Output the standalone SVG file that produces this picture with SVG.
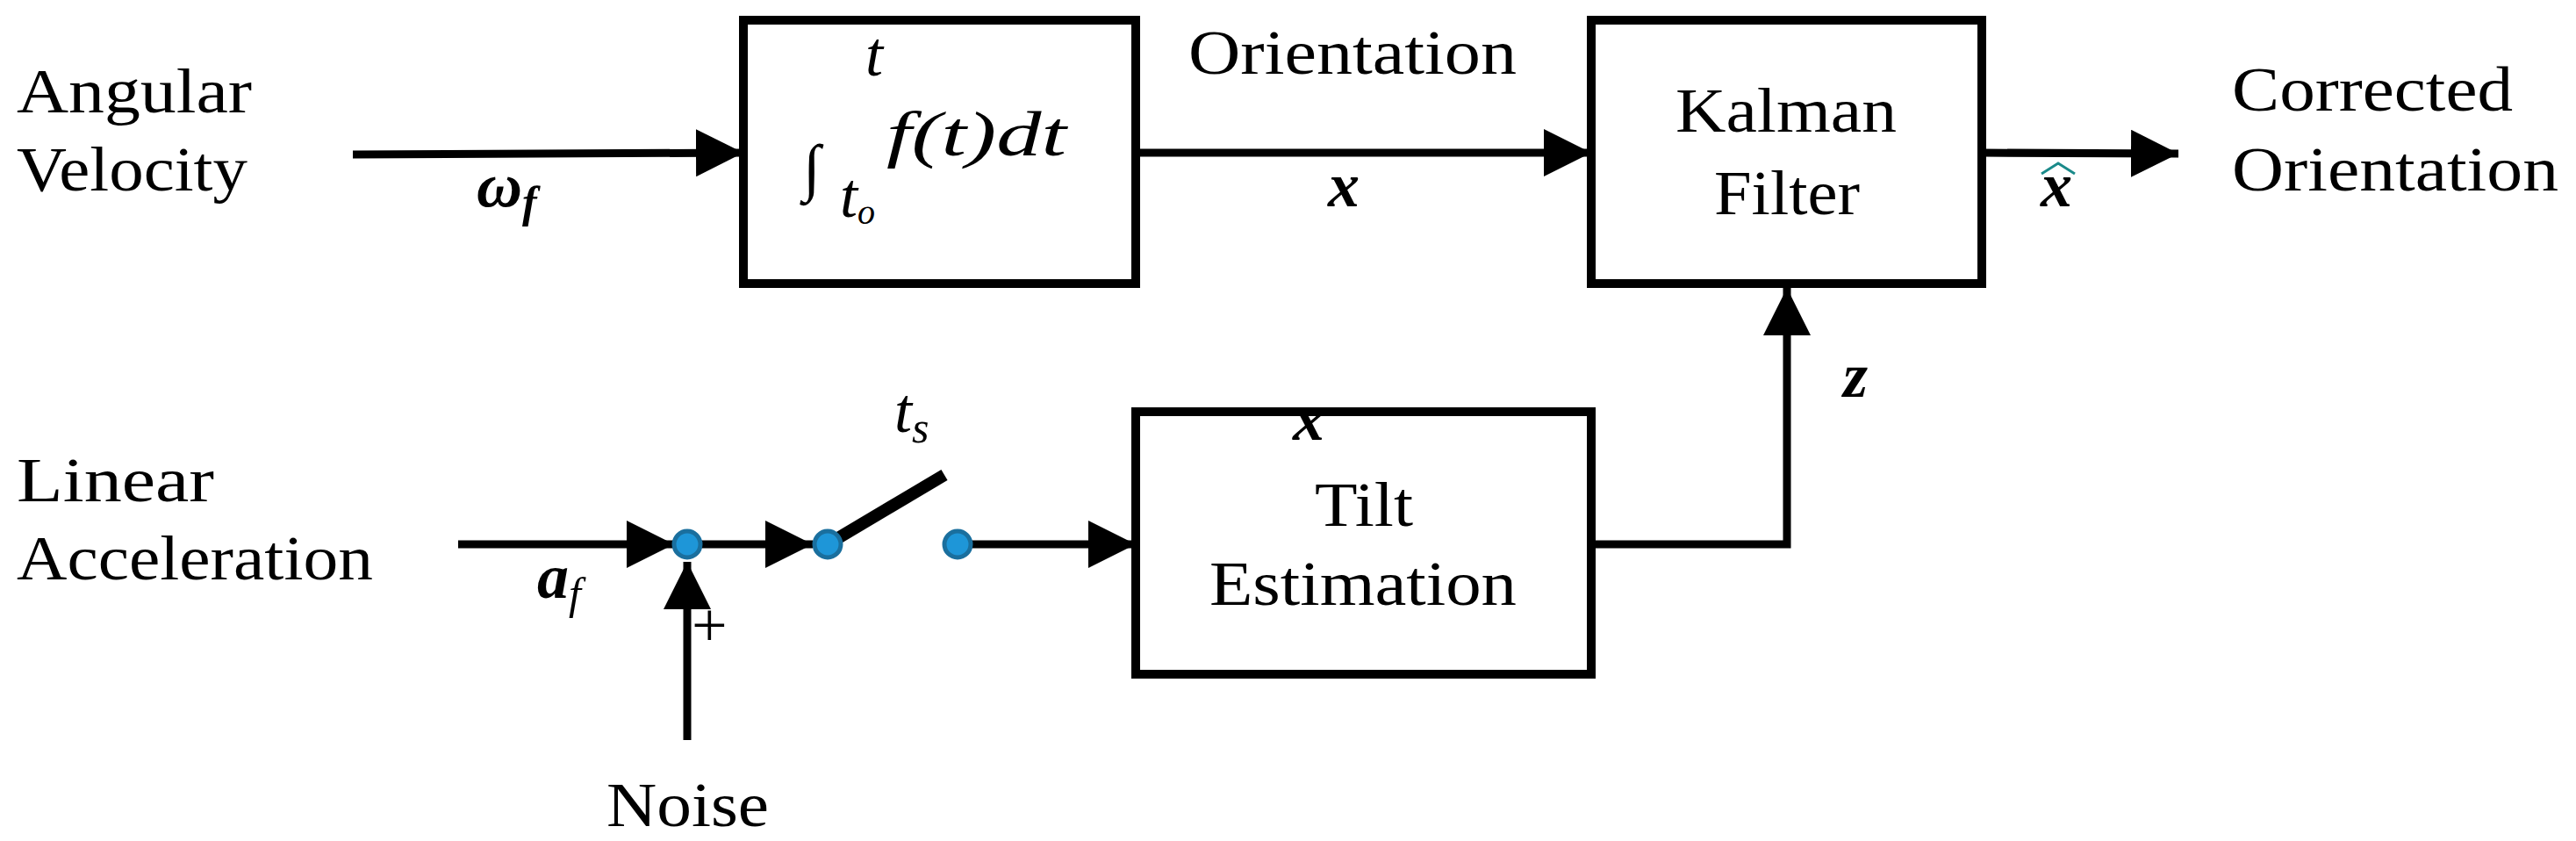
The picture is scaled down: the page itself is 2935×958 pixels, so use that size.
<svg xmlns="http://www.w3.org/2000/svg" width="2935" height="958" viewBox="0 0 2935 958">
<defs>
<style>
.t{font-family:"Liberation Serif",serif;font-size:72px;fill:#000}
.m{font-family:"Liberation Serif",serif;font-style:italic;font-size:72px;fill:#000}
.b{font-weight:bold}
.box{fill:#fff;stroke:#000;stroke-width:10}
.ln{fill:none;stroke:#000;stroke-width:9}
.dot{fill:#1e96d8;stroke:#1a6f9e;stroke-width:5}
</style>
<marker id="ah" markerWidth="6" markerHeight="6" refX="6" refY="3" orient="auto" markerUnits="strokeWidth" viewBox="0 0 6 6"><path d="M0,0 L6,3 L0,6 Z" fill="#000"/></marker>
</defs>
<g id="connectors">
<line class="ln" x1="402" y1="176" x2="847" y2="174" marker-end="url(#ah)"/>
<line class="ln" x1="1294" y1="174" x2="1813" y2="174" marker-end="url(#ah)"/>
<line class="ln" x1="2258" y1="174" x2="2482" y2="175" marker-end="url(#ah)"/>
<polyline class="ln" points="1813,620 2036,620 2036,328" marker-end="url(#ah)"/>
<line class="ln" x1="522" y1="620" x2="768" y2="620" marker-end="url(#ah)"/>
<line class="ln" x1="783" y1="620" x2="926" y2="620" marker-end="url(#ah)"/>
<line class="ln" x1="1091" y1="620" x2="1294" y2="620" marker-end="url(#ah)"/>
<line class="ln" x1="783" y1="843" x2="783" y2="640" marker-end="url(#ah)"/>
<line x1="943" y1="620" x2="1076" y2="541" stroke="#000" stroke-width="14"/>
</g>
<g id="integrator">
<rect class="box" x="847" y="23" width="447" height="300"/>
<text class="m" x="915" y="215" font-size="150">∫</text>
<text class="m" x="986" y="86" font-size="56">t</text>
<text class="m" x="957" y="247" font-size="56">t<tspan font-size="40" dy="8">o</tspan></text>
<text class="m" x="1010" y="177" textLength="205" lengthAdjust="spacingAndGlyphs">f(t)dt</text>
</g>
<g id="kalman">
<rect class="box" x="1813" y="23" width="445" height="300"/>
<text class="t" x="2035" y="150" text-anchor="middle" textLength="252" lengthAdjust="spacingAndGlyphs">Kalman</text>
<text class="t" x="2036" y="244" text-anchor="middle" textLength="166" lengthAdjust="spacingAndGlyphs">Filter</text>
</g>
<g id="tilt">
<rect class="box" x="1294" y="469" width="519" height="299"/>
<text class="t" x="1554" y="599" text-anchor="middle" textLength="112" lengthAdjust="spacingAndGlyphs">Tilt</text>
<text class="t" x="1553" y="689" text-anchor="middle" textLength="350" lengthAdjust="spacingAndGlyphs">Estimation</text>
<text class="m b" x="1473" y="501">x</text>
</g>
<g id="switch">
<circle class="dot" cx="783" cy="620" r="15"/>
<circle class="dot" cx="943" cy="620" r="15"/>
<circle class="dot" cx="1091" cy="620" r="15"/>
</g>
<g id="labels">
<text class="t" x="19" y="128" textLength="268" lengthAdjust="spacingAndGlyphs">Angular</text>
<text class="t" x="19" y="217" textLength="263" lengthAdjust="spacingAndGlyphs">Velocity</text>
<text class="m b" x="543" y="235">ω<tspan font-size="50" dy="12">f</tspan></text>
<text class="t" x="1354" y="84" textLength="374" lengthAdjust="spacingAndGlyphs">Orientation</text>
<text class="m b" x="1513" y="235">x</text>
<text class="m b" x="2325" y="235">x</text>
<path d="M2326,198 L2345,186 L2364,198" fill="none" stroke="#1a8a8a" stroke-width="3"/>
<text class="t" x="2543" y="126" textLength="320" lengthAdjust="spacingAndGlyphs">Corrected</text>
<text class="t" x="2543" y="217" textLength="372" lengthAdjust="spacingAndGlyphs">Orientation</text>
<text class="m b" x="2100" y="452">z</text>
<text class="t" x="19" y="571" textLength="225" lengthAdjust="spacingAndGlyphs">Linear</text>
<text class="t" x="19" y="660" textLength="406" lengthAdjust="spacingAndGlyphs">Acceleration</text>
<text class="m b" x="612" y="681">a<tspan font-size="50" dy="12" font-weight="normal">f</tspan></text>
<text class="m" x="1019" y="492">t<tspan font-size="50" dy="12">s</tspan></text>
<text class="t" x="788" y="736" font-size="66">+</text>
<text class="t" x="691" y="941" textLength="185" lengthAdjust="spacingAndGlyphs">Noise</text>
</g>
</svg>
